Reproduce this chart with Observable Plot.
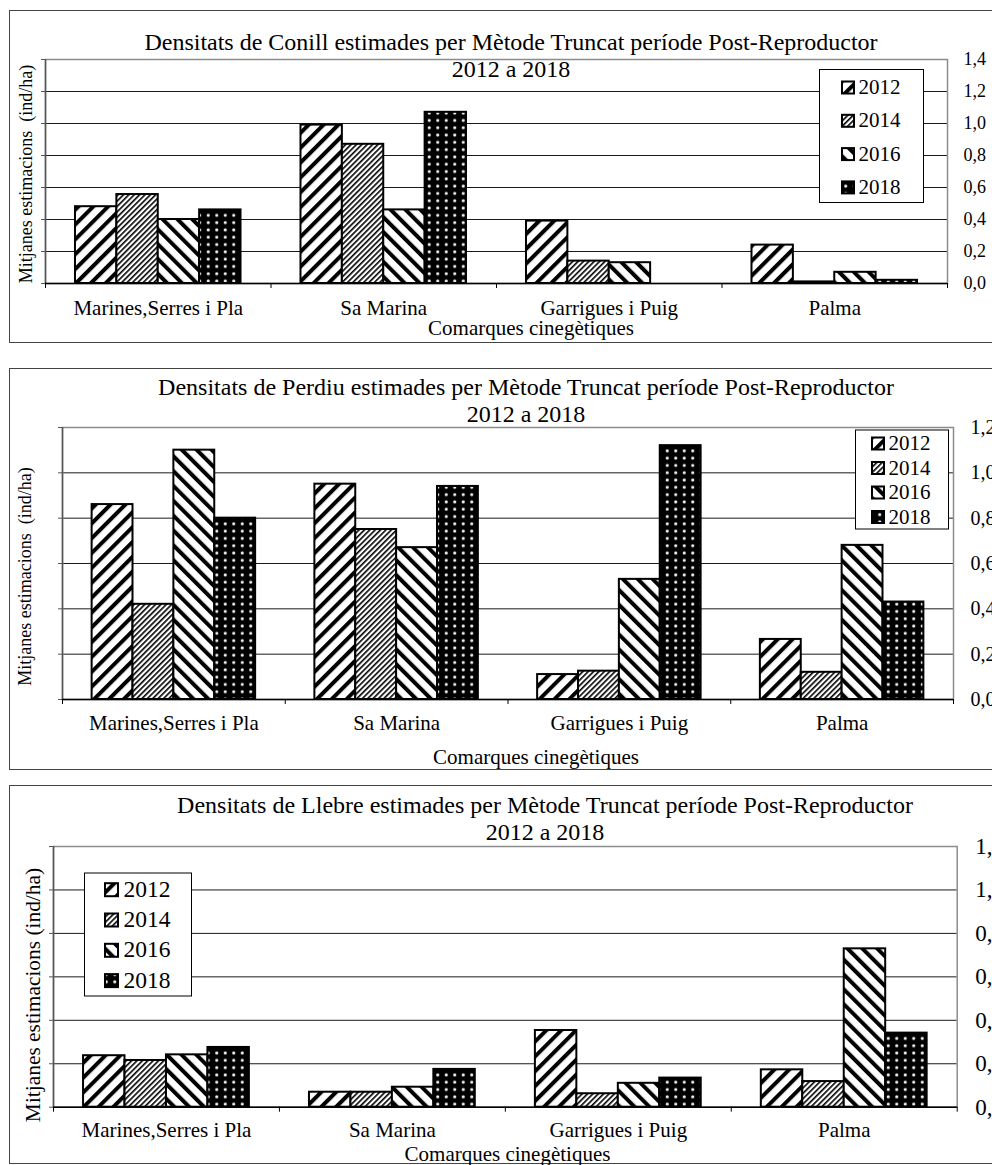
<!DOCTYPE html>
<html><head><meta charset="utf-8">
<script src="https://cdn.jsdelivr.net/npm/d3@7"></script>
<script src="https://cdn.jsdelivr.net/npm/@observablehq/plot@0.6"></script>
<style>
html,body{margin:0;padding:0;background:#fff;}
body{width:992px;height:1165px;overflow:hidden;position:relative;font-family:"Liberation Serif","Times New Roman",serif;}
</style></head><body>
<svg width="0" height="0" style="position:absolute">
<defs>
<pattern id="pat2012" width="10.5" height="10.5" patternUnits="userSpaceOnUse" patternTransform="rotate(45)"><rect width="10.5" height="10.5" fill="#fff"/><rect width="4" height="10.5" fill="#000"/></pattern>
<pattern id="pat2014" width="3.8" height="3.8" patternUnits="userSpaceOnUse" patternTransform="rotate(45)"><rect width="3.8" height="3.8" fill="#fff"/><rect width="1.6" height="3.8" fill="#000"/></pattern>
<pattern id="pat2016" width="10.5" height="10.5" patternUnits="userSpaceOnUse" patternTransform="rotate(-45)"><rect width="10.5" height="10.5" fill="#fff"/><rect width="4" height="10.5" fill="#000"/></pattern>
<pattern id="pat2018" width="8.5" height="7.3" patternUnits="userSpaceOnUse"><rect width="8.5" height="7.3" fill="#000"/><circle cx="4.25" cy="3.65" r="1.6" fill="#f0f0f0"/></pattern>
</defs></svg>
<div id="root"></div>
<script>
// ---------- data ----------
const categories = ["Marines,Serres i Pla", "Sa Marina", "Garrigues i Puig", "Palma"];
const years = ["2012", "2014", "2016", "2018"];

const conill2012 = [0.48, 0.99, 0.39, 0.24];
const conill2014 = [0.556, 0.87, 0.14, 0.01];
const conill2016 = [0.40, 0.46, 0.13, 0.07];
const conill2018 = [0.46, 1.07, 0.0, 0.02];

const perdiu2012 = [0.86, 0.95, 0.11, 0.265];
const perdiu2014 = [0.42, 0.75, 0.125, 0.12];
const perdiu2016 = [1.10, 0.67, 0.53, 0.68];
const perdiu2018 = [0.80, 0.94, 1.12, 0.43];

const llebre2012 = [0.237, 0.069, 0.353, 0.172];
const llebre2014 = [0.215, 0.069, 0.062, 0.118];
const llebre2016 = [0.241, 0.092, 0.11, 0.729];
const llebre2018 = [0.275, 0.174, 0.134, 0.341];

const yTicksConill = [0, 0.2, 0.4, 0.6, 0.8, 1.0, 1.2, 1.4];
const yTicksOther = [0, 0.2, 0.4, 0.6, 0.8, 1.0, 1.2];

const titleConill = "Densitats de Conill estimades per Mètode Truncat període Post-Reproductor";
const titlePerdiu = "Densitats de Perdiu estimades per Mètode Truncat període Post-Reproductor";
const titleLlebre = "Densitats de Llebre estimades per Mètode Truncat període Post-Reproductor";
const subtitle = "2012 a 2018";
const xTitle = "Comarques cinegètiques";
const yTitle = "Mitjanes estimacions (ind/ha)";
const yTitleWide = "Mitjanes estimacions  (ind/ha)";

// ---------- layout ----------
const FONT = "'Liberation Serif','Times New Roman',serif";
const PAD = 0.133, BW = (1 - 2 * PAD) / 4;
const root = document.getElementById("root");
const fmt = d => d3.format(".1f")(d).replace(".", ",");

const panels = [
  {series: [conill2012, conill2014, conill2016, conill2018], ticks: yTicksConill, ymax: 1.4,
   top: 0, h: 340, m: [59, 45, 57, 45], rPad: 16, rFont: 18, cPad: 17,
   border: [10.5, 342.5], title: titleConill, tx: 511, tb: [49.5, 77],
   xtx: 531, xtb: 335, ytx: 32, yty: 174, ytf: 18, ytText: yTitleWide,
   lg: {x: 819.5, y: 69.5, w: 104, h: 133, sx: 842, s: 12, tx: 858.5, b0: 94, step: 33.3, f: 21}},
  {series: [perdiu2012, perdiu2014, perdiu2016, perdiu2018], ticks: yTicksOther, ymax: 1.2,
   top: 345, h: 425, m: [82, 39, 71, 62], rPad: 17, rFont: 20, cPad: 16,
   border: [368.5, 769.5], title: titlePerdiu, tx: 526, tb: [395, 421.7],
   xtx: 536, xtb: 764, ytx: 30.5, yty: 576.5, ytf: 18, ytText: yTitleWide,
   lg: {x: 855.5, y: 430, w: 93, h: 99, sx: 872, s: 12, tx: 888.5, b0: 450, step: 24.5, f: 21}},
  {series: [llebre2012, llebre2014, llebre2016, llebre2018], ticks: yTicksOther, ymax: 1.2,
   top: 772, h: 393, m: [74, 35.3, 58.3, 53], rPad: 18, rFont: 23, cPad: 15,
   border: [785.5, 1163.5], title: titleLlebre, tx: 545, tb: [812.7, 840],
   xtx: 507.5, xtb: 1160.7, ytx: 40, yty: 995, ytf: 21.4, ytText: yTitle,
   lg: {x: 84.5, y: 873, w: 107, h: 123, sx: 105, s: 13, tx: 123.5, b0: 896.7, step: 30.3, f: 23.5}}
];

function rowsFor(series) {
  return years.flatMap((year, yi) => categories.map((cat, ci) => ({cat, ci, year, yi, value: series[yi][ci]})));
}

for (const p of panels) {
  const rows = rowsFor(p.series);
  const svg = Plot.plot({
    width: 992, height: p.h,
    marginTop: p.m[0], marginRight: p.m[1], marginBottom: p.m[2], marginLeft: p.m[3],
    style: {background: "transparent", overflow: "visible", fontFamily: FONT, color: "#000"},
    x: {type: "linear", domain: [0, categories.length]},
    y: {domain: [0, p.ymax]},
    marks: [
      Plot.gridY(p.ticks, {stroke: "#1a1a1a", strokeOpacity: 1, strokeWidth: 1}),
      Plot.frame({stroke: "#8c8c8c", strokeWidth: 1.5}),
      ...years.map(year => Plot.rectY(rows.filter(d => d.year === year), {
        x1: d => d.ci + PAD + d.yi * BW,
        x2: d => d.ci + PAD + (d.yi + 1) * BW,
        y1: 0, y2: "value",
        fill: `url(#pat${year})`, stroke: "#000", strokeWidth: 2
      })),
      Plot.ruleX([0], {stroke: "#555", strokeWidth: 1.5}),
      Plot.ruleY([0], {stroke: "#000", strokeWidth: 1.5}),
      Plot.axisY(p.ticks, {anchor: "left", tickSize: 4, tickFormat: () => "", stroke: "#555", label: null}),
      Plot.axisY(p.ticks, {anchor: "right", tickSize: 0, tickPadding: p.rPad, tickFormat: fmt, fontSize: p.rFont, fill: "#000", label: null}),
      Plot.axisX(d3.range(categories.length + 1), {anchor: "bottom", tickSize: 5, tickFormat: () => "", stroke: "#000", label: null}),
      Plot.axisX(categories.map((c, i) => i + 0.5), {anchor: "bottom", tickSize: 0, tickPadding: p.cPad, tickFormat: d => categories[Math.floor(d)], fontSize: 21, fill: "#000", label: null})
    ]
  });
  svg.style.position = "absolute";
  svg.style.left = "0px";
  svg.style.top = p.top + "px";
  root.appendChild(svg);
}

// ---------- overlay: borders, titles, axis titles, legends ----------
const ov = d3.select(root).append("svg")
  .attr("width", 992).attr("height", 1165)
  .style("position", "absolute").style("left", "0px").style("top", "0px")
  .style("font-family", FONT).style("pointer-events", "none");

for (const p of panels) {
  ov.append("rect").attr("x", 9.5).attr("y", p.border[0]).attr("width", 1200).attr("height", p.border[1] - p.border[0])
    .attr("fill", "none").attr("stroke", "#444").attr("stroke-width", 1);
  ov.append("text").attr("x", p.tx).attr("y", p.tb[0]).attr("text-anchor", "middle").attr("font-size", 24).text(p.title);
  ov.append("text").attr("x", p.tx).attr("y", p.tb[1]).attr("text-anchor", "middle").attr("font-size", 24).text(subtitle);
  ov.append("text").attr("x", p.xtx).attr("y", p.xtb).attr("text-anchor", "middle").attr("font-size", 21).text(xTitle);
  ov.append("text").attr("transform", `translate(${p.ytx},${p.yty}) rotate(-90)`).attr("text-anchor", "middle")
    .attr("font-size", p.ytf).style("white-space", "pre").text(p.ytText);
  const lg = p.lg;
  ov.append("rect").attr("x", lg.x).attr("y", lg.y).attr("width", lg.w).attr("height", lg.h)
    .attr("fill", "#fff").attr("stroke", "#000").attr("stroke-width", 1);
  years.forEach((year, i) => {
    const b = lg.b0 + i * lg.step;
    ov.append("rect").attr("x", lg.sx).attr("y", b - 0.5 - lg.s).attr("width", lg.s).attr("height", lg.s)
      .attr("fill", `url(#pat${year})`).attr("stroke", "#000").attr("stroke-width", 2);
    ov.append("text").attr("x", lg.tx).attr("y", b).attr("font-size", lg.f).text(year);
  });
}
</script>
</body></html>
